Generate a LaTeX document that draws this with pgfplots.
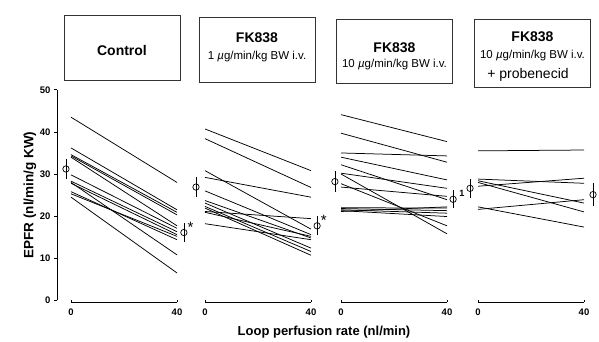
\documentclass[border=0pt]{standalone}
\usepackage{pgfplots}
\pgfplotsset{compat=1.18}
\usepackage{fontspec}
\setmainfont{Liberation Sans}
\pgfplotsset{
 /pgf/number format/assume math mode=true,
 panel/.style={x=2.65pt, y=4.21pt, xmin=0, xmax=40, ymin=-0.4, ymax=50, clip=false,
  axis x line*=bottom, axis y line=none, xtick={0,40}, tick align=inside, major tick length=2.5pt,
  every tick/.style={black, line width=0.8pt}, axis line style={line width=1pt},
  xticklabel style={font=\fontsize{9.5}{10}\selectfont\bfseries, yshift=-3pt},
  anchor=south west},
 ind/.style={black, line width=0.75pt},
 meanpt/.style={black, only marks, mark=o, mark size=3.2pt, mark options={fill=white, line width=0.7pt},
  error bars/.cd, y dir=both, y explicit, error bar style={line width=0.7pt}, error mark options={line width=0.7pt, mark size=2pt}},
}
\begin{document}
\begin{tikzpicture}[x=1pt,y=1pt]
\useasboundingbox (0,0) rectangle (599,341);
% header boxes
\tikzset{hbox/.style={draw=black!80, line width=0.7pt, minimum width=116pt, inner sep=0pt}}
\node[hbox, minimum height=65pt] at (122,293.5) {};
\node[hbox, minimum height=65pt] at (257,291.5) {};
\node[hbox, minimum height=64pt] at (394.5,290) {};
\node[hbox, minimum height=68pt] at (532.5,288) {};
\node[font=\fontsize{14}{16}\selectfont\bfseries] at (122,291) {Control};
\node[font=\fontsize{14}{16}\selectfont\bfseries] at (257,303) {FK838};
\node[font=\fontsize{11.5}{12}\selectfont] at (257,284) {1 {\itshape µ}g/min/kg BW i.v.};
\node[font=\fontsize{14}{16}\selectfont\bfseries] at (394.5,293) {FK838};
\node[font=\fontsize{11.5}{12}\selectfont] at (394.5,276) {10 {\itshape µ}g/min/kg BW i.v.};
\node[font=\fontsize{14}{16}\selectfont\bfseries] at (532.5,304) {FK838};
\node[font=\fontsize{11.5}{12}\selectfont] at (532.5,285) {10 {\itshape µ}g/min/kg BW i.v.};
\node[font=\fontsize{14}{15}\selectfont] at (528,266) {+ probenecid};
\node[font=\fontsize{13}{15}\selectfont\bfseries] at (324,9) {Loop perfusion rate (nl/min)};

% y axis
\begin{axis}[at={(57pt,40.7pt)}, anchor=south west, x=1pt, y=4.21pt, xmin=0, xmax=1, ymin=0, ymax=50,
  axis y line*=left, axis x line=none, ytick={0,10,...,50}, tick align=outside, major tick length=3pt,
  every tick/.style={black, line width=0.8pt}, axis line style={line width=1pt},
  yticklabel style={font=\fontsize{9.5}{10}\selectfont\bfseries},
  ylabel={EPFR (nl/min/g KW)},
  every axis y label/.style={at={(axis description cs:-27,0.5)}, anchor=center, rotate=90, font=\fontsize{13.5}{15}\selectfont\bfseries}]
\addplot[draw=none] coordinates {(0,0)};
\end{axis}

% panel 1
\begin{axis}[panel, at={(71pt,39pt)}]
\addplot[ind] coordinates {(0,43.5) (40,28.0)};
\addplot[ind] coordinates {(0,36.2) (40,21.5)};
\addplot[ind] coordinates {(0,34.6) (40,20.9)};
\addplot[ind] coordinates {(0,34.3) (40,20.3)};
\addplot[ind] coordinates {(0,34.0) (40,17.7)};
\addplot[ind] coordinates {(0,29.8) (40,17.1)};
\addplot[ind] coordinates {(0,28.3) (40,16.3)};
\addplot[ind] coordinates {(0,28.0) (40,10.8)};
\addplot[ind] coordinates {(0,27.8) (40,15.6)};
\addplot[ind] coordinates {(0,25.8) (40,14.4)};
\addplot[ind] coordinates {(0,25.3) (40,15.2)};
\addplot[ind] coordinates {(0,24.5) (40,6.5)};
\addplot[meanpt] coordinates {(-1.9,31.2) +- (0,1.9) (42.6,16.1) +- (0,1.8)};
\node[font=\fontsize{15}{15}\selectfont, anchor=west, inner sep=1pt] at (axis cs:43.6,17.4) {*};
\end{axis}

% panel 2
\begin{axis}[panel, at={(205pt,39pt)}]
\addplot[ind] coordinates {(0,40.7) (40,30.8)};
\addplot[ind] coordinates {(0,38.4) (40,26.8)};
\addplot[ind] coordinates {(0,30.8) (40,16.9)};
\addplot[ind] coordinates {(0,29.2) (40,24.5)};
\addplot[ind] coordinates {(0,26.0) (40,15.6)};
\addplot[ind] coordinates {(0,23.7) (40,14.8)};
\addplot[ind] coordinates {(0,23.1) (40,12.4)};
\addplot[ind] coordinates {(0,22.3) (40,11.6)};
\addplot[ind] coordinates {(0,21.9) (40,10.7)};
\addplot[ind] coordinates {(0,21.1) (40,19.4)};
\addplot[ind] coordinates {(0,20.9) (40,15.2)};
\addplot[ind] coordinates {(0,18.2) (40,14.4)};
\addplot[meanpt] coordinates {(-3.4,26.9) +- (0,1.9) (42.3,17.7) +- (0,1.8)};
\node[font=\fontsize{15}{15}\selectfont, anchor=west, inner sep=1pt] at (axis cs:43.3,19.0) {*};
\end{axis}

% panel 3
\begin{axis}[panel, at={(341pt,39pt)}]
\addplot[ind] coordinates {(0,44.1) (40,37.7)};
\addplot[ind] coordinates {(0,39.7) (40,32.8)};
\addplot[ind] coordinates {(0,35.0) (40,34.3)};
\addplot[ind] coordinates {(0,34.0) (40,28.6)};
\addplot[ind] coordinates {(0,32.2) (40,23.9)};
\addplot[ind] coordinates {(0,30.2) (40,26.6)};
\addplot[ind] coordinates {(0,30.0) (40,15.8)};
\addplot[ind] coordinates {(0,27.7) (40,17.7)};
\addplot[ind] coordinates {(0,26.9) (40,24.7)};
\addplot[ind] coordinates {(0,22.0) (40,21.9)};
\addplot[ind] coordinates {(0,21.8) (40,21.3)};
\addplot[ind] coordinates {(0,21.5) (40,20.7)};
\addplot[ind] coordinates {(0,21.3) (40,19.9)};
\addplot[ind] coordinates {(0,21.1) (40,22.2)};
\addplot[meanpt] coordinates {(-2.3,28.2) +- (0,2.0) (42.3,24.0) +- (0,1.7)};
\node[font=\fontsize{9}{9}\selectfont\bfseries, anchor=west] at (axis cs:43.3,25.3) {1};
\end{axis}

% panel 4
\begin{axis}[panel, at={(478pt,39pt)}]
\addplot[ind] coordinates {(0,35.5) (40,35.7)};
\addplot[ind] coordinates {(0,28.8) (40,27.8)};
\addplot[ind] coordinates {(0,28.4) (40,23.1)};
\addplot[ind] coordinates {(0,28.0) (40,21.0)};
\addplot[ind] coordinates {(0,27.1) (40,29.0)};
\addplot[ind] coordinates {(0,22.2) (40,17.4)};
\addplot[ind] coordinates {(0,21.6) (40,23.9)};
\addplot[meanpt] coordinates {(-3.0,26.6) +- (0,1.8) (43.4,25.1) +- (0,2.3)};
\end{axis}
\end{tikzpicture}
\end{document}
